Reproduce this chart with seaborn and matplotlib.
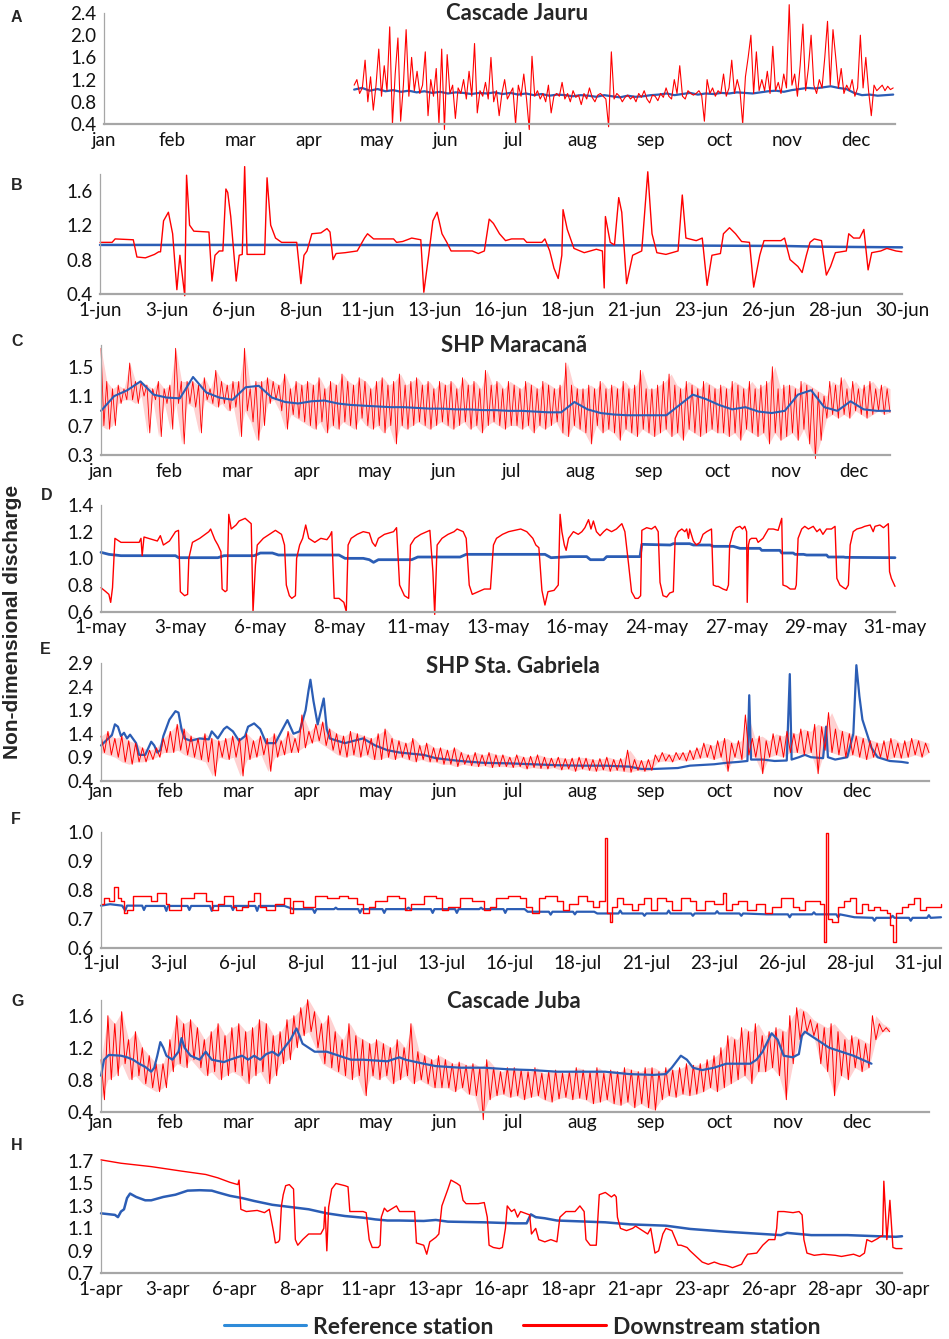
import numpy as np
import matplotlib
matplotlib.use('Agg')
import matplotlib.pyplot as plt
import seaborn as sns
from matplotlib.lines import Line2D

# ---------------- data (x = sample index along each panel, y = non-dimensional discharge)

# A: Cascade Jauru, full year (series start in late April)
A_months = ['jan', 'feb', 'mar', 'apr', 'may', 'jun', 'jul', 'aug', 'sep', 'oct', 'nov', 'dec']
A_span = (413, 1303)
A_ref = [1.02, 1.05, 1.00, 1.03, 0.99, 1.01, 0.98, 1.00, 0.97, 0.99,
         0.96, 0.98, 0.95, 0.97, 0.96, 0.94, 0.96, 0.95, 0.97, 0.94,
         0.96, 0.93, 0.95, 0.92, 0.94, 0.91, 0.93, 0.92, 0.90, 0.92,
         0.91, 0.89, 0.92, 0.90, 0.88, 0.91, 0.89, 0.90, 0.92, 0.93,
         0.95, 0.92, 0.94, 0.96, 0.93, 0.95, 0.94, 0.96, 0.95, 0.97,
         0.96, 0.95, 0.97, 0.99, 1.00, 0.98, 1.01, 1.03, 1.05, 1.04,
         1.06, 1.08, 1.05, 1.03, 0.96, 0.92, 0.93, 0.91, 0.92, 0.93]
A_down = [1.10, 1.20, 0.95, 1.05, 1.55, 0.80, 1.25, 0.65, 1.10, 1.75, 0.90, 1.45, 1.00, 2.15, 0.40, 1.30, 1.95, 0.45, 1.10, 2.10, 0.90, 1.60, 1.00, 1.35, 0.95,
          1.10, 1.70, 0.55, 1.20, 0.90, 1.40, 0.40, 1.75, 0.30, 1.65, 0.95, 1.10, 0.50, 1.05, 0.95, 1.20, 0.85, 1.35, 0.90, 1.85, 0.60, 1.00, 0.90, 1.15, 0.85,
          1.60, 0.80, 1.00, 0.55, 0.95, 1.20, 0.85, 0.95, 1.05, 0.40, 1.10, 0.90, 1.30, 0.85, 0.30, 1.62, 0.90, 1.00, 0.85, 0.95, 0.80, 1.10, 0.60, 0.90, 0.95,
          0.90, 1.15, 0.85, 0.95, 0.80, 1.00, 0.88, 0.92, 0.75, 0.95, 0.85, 1.05, 0.88, 0.80, 0.92, 0.95, 0.90, 0.85, 0.35, 1.70, 0.85, 0.95, 0.90, 0.80, 0.88,
          0.92, 0.85, 0.90, 0.80, 0.95, 0.88, 1.00, 0.85, 0.78, 0.92, 0.90, 0.82, 0.95, 0.88, 1.05, 0.90, 0.85, 1.20, 0.95, 1.45, 0.90, 0.85, 1.00, 0.95, 0.92,
          0.95, 1.00, 0.92, 0.45, 1.20, 0.95, 1.05, 0.90, 1.00, 0.95, 1.30, 0.90, 1.05, 1.55, 0.95, 1.20, 1.00, 0.40, 1.25, 1.60, 2.00, 0.95, 1.70, 1.00, 1.20,
          1.00, 1.35, 0.95, 1.80, 1.00, 1.15, 0.95, 1.30, 1.05, 2.55, 1.10, 1.30, 0.90, 1.45, 2.20, 1.00, 1.40, 2.00, 1.10, 0.95, 1.20, 1.05, 1.60, 2.25, 1.10,
          2.10, 1.60, 1.05, 1.40, 0.95, 1.10, 1.00, 1.20, 0.90, 1.05, 2.00, 1.05, 1.60, 1.00, 0.55, 1.10, 1.00, 1.05, 1.10, 1.00, 1.08, 1.02, 1.05]

# B: Cascade Jauru, June (hourly)
B_days = ['1-jun', '3-jun', '6-jun', '8-jun', '11-jun', '13-jun', '16-jun',
          '18-jun', '21-jun', '23-jun', '26-jun', '28-jun', '30-jun']
B_ref = [(0, 0.97), (300, 0.97), (480, 0.969), (600, 0.966), (900, 0.965), (1000, 0.962),
         (1130, 0.958), (1185, 0.95), (1325, 0.942)]
B_down = [(0, 1.00), (20, 1.00), (25, 1.04), (55, 1.03), (61, 0.83), (75, 0.82), (90, 0.86), (97, 0.89),
          (100, 0.89), (105, 1.25), (113, 1.35), (120, 1.10), (127, 0.45), (132, 0.85), (140, 0.38), (143, 1.78),
          (148, 1.20), (155, 1.13), (180, 1.12), (185, 0.55), (190, 0.85), (197, 0.90), (203, 0.90), (208, 1.62),
          (211, 1.58), (216, 1.30), (225, 0.55), (230, 0.85), (235, 0.86), (239, 1.88), (243, 0.86), (272, 0.86),
          (276, 1.75), (282, 1.20), (290, 1.05), (300, 1.00), (325, 1.00), (332, 0.52), (337, 0.85), (342, 0.90),
          (350, 1.10), (365, 1.11), (375, 1.16), (380, 1.12), (385, 0.80), (390, 0.87), (405, 0.88), (425, 0.90),
          (437, 1.05), (442, 1.10), (452, 1.04), (485, 1.04), (490, 1.00), (500, 1.01), (515, 1.05), (530, 1.03),
          (535, 0.42), (543, 0.85), (550, 1.25), (557, 1.35), (565, 1.10), (573, 1.00), (580, 0.90), (615, 0.90),
          (625, 0.87), (635, 0.90), (643, 1.27), (650, 1.22), (660, 1.10), (670, 1.02), (680, 1.04), (700, 1.04),
          (705, 1.00), (730, 1.00), (735, 1.04), (743, 0.90), (750, 0.70), (757, 0.58), (763, 0.85), (765, 1.38),
          (772, 1.15), (783, 0.93), (800, 0.88), (820, 0.92), (830, 0.90), (833, 0.47), (835, 1.30), (843, 1.00),
          (850, 0.97), (857, 1.52), (862, 1.35), (870, 0.52), (880, 0.85), (895, 0.90), (905, 1.82), (912, 1.10),
          (920, 0.88), (935, 0.86), (955, 0.90), (962, 1.55), (968, 1.05), (985, 1.02), (995, 1.05), (1003, 0.50),
          (1011, 0.85), (1025, 0.87), (1030, 1.10), (1040, 1.17), (1050, 1.10), (1060, 1.01), (1073, 1.00), (1080, 0.48),
          (1090, 0.85), (1097, 1.02), (1125, 1.02), (1131, 1.05), (1140, 0.80), (1153, 0.72), (1160, 0.65), (1167, 0.85),
          (1173, 1.00), (1180, 1.04), (1192, 1.02), (1200, 0.62), (1207, 0.72), (1215, 0.88), (1233, 0.90), (1237, 1.10),
          (1245, 1.05), (1255, 1.05), (1262, 1.15), (1269, 0.68), (1275, 0.88), (1290, 0.90), (1300, 0.93), (1315, 0.90),
          (1325, 0.89)]

# C: SHP Maracana, full year -- reference mean line, downstream upper/lower swings
C_months = A_months
C_end = 1303
C_ref = [0.90, 1.10, 1.18, 1.30, 1.12, 1.08, 1.07, 1.36, 1.15, 1.08, 1.05, 1.22, 1.24, 1.08, 1.02, 1.00,
         1.03, 1.04, 1.00, 0.98, 0.97, 0.96, 0.95, 0.95, 0.94, 0.93, 0.93, 0.92, 0.92, 0.91, 0.91, 0.90,
         0.90, 0.89, 0.88, 0.88, 1.02, 0.92, 0.87, 0.85, 0.84, 0.84, 0.84, 0.84, 0.98, 1.12, 1.06, 0.98,
         0.92, 0.95, 0.89, 0.87, 0.90, 1.12, 1.18, 0.95, 0.90, 1.03, 0.92, 0.90, 0.90]
C_hi = [1.75, 1.30, 1.20, 1.25, 1.20, 1.55, 1.30, 1.30, 1.25, 1.20, 1.30, 1.20,
        1.25, 1.75, 1.30, 1.30, 1.30, 1.25, 1.35, 1.20, 1.45, 1.30, 1.25, 1.30,
        1.30, 1.75, 1.20, 1.30, 1.30, 1.35, 1.30, 1.25, 1.40, 1.20, 1.30, 1.25,
        1.30, 1.25, 1.35, 1.20, 1.30, 1.25, 1.40, 1.30, 1.25, 1.35, 1.30, 1.20,
        1.30, 1.35, 1.25, 1.30, 1.40, 1.25, 1.30, 1.35, 1.25, 1.30, 1.20, 1.30,
        1.25, 1.30, 1.20, 1.35, 1.25, 1.30, 1.20, 1.45, 1.25, 1.30, 1.20, 1.30,
        1.25, 1.20, 1.30, 1.25, 1.20, 1.30, 1.25, 1.20, 1.25, 1.55, 1.25, 1.20,
        1.20, 1.25, 1.20, 1.30, 1.20, 1.25, 1.20, 1.30, 1.20, 1.25, 1.45, 1.20,
        1.20, 1.25, 1.30, 1.40, 1.25, 1.20, 1.30, 1.25, 1.20, 1.30, 1.25, 1.20,
        1.25, 1.20, 1.30, 1.25, 1.20, 1.30, 1.20, 1.25, 1.30, 1.50, 1.20, 1.25,
        1.25, 1.20, 1.30, 1.25, 1.20, 1.15, 1.10, 1.30, 1.25, 1.35, 1.20, 1.30,
        1.20, 1.25, 1.30, 1.20, 1.25, 1.20]
C_lo = [0.70, 0.65, 0.70, 1.00, 1.05, 1.05, 1.00, 1.10, 0.60, 1.05, 0.55, 1.00,
        0.65, 1.00, 0.45, 1.00, 0.95, 0.60, 1.05, 1.00, 0.95, 1.00, 0.90, 0.95,
        0.55, 0.90, 0.75, 0.50, 0.70, 1.00, 1.05, 0.90, 0.65, 0.85, 0.80, 0.75,
        0.70, 0.65, 0.75, 0.60, 0.70, 0.65, 0.75, 0.70, 0.65, 0.80, 0.70, 0.65,
        0.70, 0.60, 0.70, 0.45, 0.70, 0.65, 0.70, 0.75, 0.70, 0.65, 0.70, 0.75,
        0.70, 0.65, 0.70, 0.75, 0.65, 0.70, 0.60, 0.70, 0.75, 0.70, 0.65, 0.70,
        0.70, 0.65, 0.70, 0.60, 0.70, 0.65, 0.70, 0.75, 0.60, 0.55, 0.70, 0.65,
        0.60, 0.45, 0.70, 0.60, 0.65, 0.60, 0.50, 0.65, 0.60, 0.55, 0.65, 0.60,
        0.55, 0.60, 0.65, 0.55, 0.60, 0.50, 0.65, 0.60, 0.55, 0.60, 0.65, 0.60,
        0.60, 0.55, 0.60, 0.50, 0.65, 0.60, 0.55, 0.60, 0.45, 0.60, 0.50, 0.55,
        0.60, 0.50, 0.65, 0.45, 0.25, 0.50, 0.80, 0.85, 0.80, 0.85, 0.80, 0.90,
        0.85, 0.80, 0.85, 0.90, 0.85, 0.88]

# D: SHP Maracana, May (hourly)
D_days = ['1-may', '3-may', '6-may', '8-may', '11-may', '13-may', '16-may',
          '24-may', '27-may', '29-may', '31-may']
D_ref = [(0, 1.045), (13, 1.03), (33, 1.02), (123, 1.02), (128, 1.005), (193, 1.005), (203, 1.02), (253, 1.02),
         (263, 1.04), (283, 1.04), (293, 1.025), (393, 1.025), (403, 1.00), (433, 1.00), (443, 0.99), (450, 0.97),
         (458, 0.99), (513, 0.99), (523, 1.01), (593, 1.01), (603, 1.03), (733, 1.03), (743, 1.005), (775, 1.013),
         (802, 1.013), (808, 0.99), (830, 0.99), (835, 1.013), (890, 1.013), (893, 1.105), (940, 1.10), (945, 1.11),
         (972, 1.11), (978, 1.10), (1006, 1.10), (1011, 1.09), (1044, 1.09), (1055, 1.075), (1088, 1.075),
         (1091, 1.06), (1121, 1.06), (1124, 1.04), (1143, 1.04), (1146, 1.03), (1160, 1.03), (1165, 1.025),
         (1198, 1.025), (1201, 1.01), (1226, 1.01), (1229, 1.0075), (1311, 1.005)]
D_down = [(0, 0.78), (8, 0.75), (13, 0.73), (16, 0.67), (19, 0.78), (23, 1.15), (33, 1.12), (63, 1.12), (66, 1.15),
          (68, 1.02), (71, 1.16), (93, 1.13), (98, 1.17), (103, 1.10), (113, 1.13), (123, 1.20), (128, 1.21),
          (131, 0.75), (138, 0.72), (143, 0.73), (145, 1.00), (151, 1.12), (163, 1.15), (178, 1.20), (181, 1.22),
          (188, 1.14), (193, 1.10), (198, 1.05), (200, 0.77), (205, 0.75), (208, 0.76), (211, 1.33), (215, 1.22),
          (223, 1.25), (228, 1.28), (238, 1.30), (243, 1.28), (248, 1.26), (251, 0.60), (255, 0.95), (258, 1.10),
          (268, 1.15), (278, 1.18), (288, 1.21), (298, 1.18), (303, 1.10), (306, 0.80), (311, 0.72), (315, 0.70),
          (321, 0.72), (323, 1.00), (328, 1.10), (333, 1.15), (338, 1.25), (343, 1.15), (353, 1.12), (363, 1.15),
          (373, 1.14), (378, 1.17), (381, 1.20), (385, 0.70), (393, 0.70), (401, 0.67), (405, 0.60), (408, 1.10),
          (413, 1.15), (423, 1.18), (433, 1.20), (443, 1.19), (448, 1.12), (453, 1.09), (458, 1.15), (468, 1.18),
          (483, 1.20), (488, 1.23), (493, 0.80), (501, 0.72), (508, 0.70), (511, 1.10), (518, 1.15), (528, 1.18),
          (538, 1.20), (543, 1.21), (548, 0.90), (551, 0.58), (555, 1.10), (563, 1.15), (573, 1.18), (583, 1.20),
          (588, 1.22), (598, 1.20), (603, 1.15), (608, 0.80), (613, 0.73), (623, 0.75), (633, 0.77), (643, 0.77),
          (648, 1.10), (653, 1.15), (663, 1.18), (673, 1.20), (683, 1.21), (693, 1.22), (703, 1.20), (713, 1.15),
          (718, 1.10), (723, 1.08), (728, 0.76), (733, 0.65), (738, 0.75), (748, 0.76), (755, 0.80), (758, 1.33),
          (761, 1.20), (765, 1.10), (768, 1.06), (772, 1.15), (780, 1.20), (788, 1.18), (794, 1.20), (799, 1.23),
          (805, 1.29), (809, 1.22), (813, 1.28), (818, 1.20), (824, 1.17), (830, 1.20), (835, 1.22), (843, 1.20),
          (851, 1.22), (860, 1.26), (865, 1.20), (871, 0.96), (876, 0.75), (882, 0.70), (887, 0.70), (891, 0.72),
          (893, 1.21), (901, 1.23), (909, 1.22), (915, 1.24), (920, 1.20), (923, 0.82), (928, 0.72), (934, 0.71),
          (939, 0.74), (945, 0.75), (948, 1.15), (953, 1.20), (959, 1.22), (964, 1.20), (967, 1.22), (970, 1.15),
          (972, 1.22), (978, 1.13), (983, 1.10), (989, 1.12), (994, 1.18), (1000, 1.20), (1008, 1.22), (1011, 0.80),
          (1016, 0.79), (1019, 0.79), (1027, 0.77), (1033, 0.76), (1036, 0.80), (1038, 1.10), (1044, 1.20),
          (1049, 1.23), (1055, 1.24), (1059, 1.22), (1063, 1.24), (1066, 1.20), (1067, 0.67), (1069, 1.10),
          (1071, 1.14), (1074, 1.15), (1082, 1.15), (1085, 1.12), (1093, 1.15), (1102, 1.22), (1110, 1.22),
          (1118, 1.21), (1124, 1.30), (1126, 0.80), (1132, 0.79), (1138, 0.77), (1146, 0.77), (1148, 0.80),
          (1151, 1.15), (1157, 1.22), (1162, 1.24), (1168, 1.22), (1176, 1.24), (1182, 1.20), (1187, 1.22),
          (1192, 1.18), (1198, 1.22), (1206, 1.22), (1212, 1.24), (1215, 0.85), (1220, 0.80), (1226, 0.78),
          (1230, 0.77), (1234, 0.80), (1237, 1.10), (1242, 1.20), (1248, 1.22), (1256, 1.23), (1261, 1.24),
          (1270, 1.25), (1275, 1.20), (1278, 1.24), (1286, 1.25), (1292, 1.23), (1300, 1.26), (1302, 0.90),
          (1305, 0.85), (1308, 0.82), (1311, 0.79)]

# E: SHP Sta. Gabriela, full year
E_months = A_months
E_ref = [(0, 1.15), (8, 1.25), (18, 1.37), (23, 1.60), (28, 1.55), (33, 1.35), (38, 1.42), (43, 1.30), (48, 1.38),
         (58, 1.20), (63, 0.95), (73, 0.95), (83, 1.23), (88, 1.15), (93, 1.00), (98, 1.05), (103, 1.35), (113, 1.70),
         (123, 1.88), (128, 1.85), (133, 1.50), (138, 1.30), (148, 1.25), (163, 1.30), (178, 1.28), (183, 1.45),
         (193, 1.30), (203, 1.50), (208, 1.55), (218, 1.45), (228, 1.25), (238, 1.35), (243, 1.55), (253, 1.62),
         (263, 1.50), (273, 1.20), (288, 1.20), (298, 1.45), (308, 1.69), (318, 1.40), (328, 1.45), (338, 1.90),
         (343, 2.33), (346, 2.55), (351, 2.10), (358, 1.60), (368, 2.15), (373, 1.50), (378, 1.30), (403, 1.20),
         (433, 1.30), (453, 1.15), (473, 1.05), (493, 1.00), (533, 0.95), (553, 0.88), (593, 0.82), (633, 0.78),
         (673, 0.77), (713, 0.75), (753, 0.73), (793, 0.72), (833, 0.72), (873, 0.70), (893, 0.65), (913, 0.65),
         (933, 0.66), (953, 0.67), (973, 0.72), (1013, 0.75), (1033, 0.78), (1053, 0.80), (1068, 0.82), (1071, 2.22),
         (1074, 0.85), (1093, 0.85), (1113, 0.82), (1133, 0.83), (1138, 2.67), (1141, 0.85), (1153, 0.90),
         (1163, 0.95), (1173, 0.90), (1193, 0.88), (1198, 1.55), (1201, 0.90), (1213, 0.85), (1233, 0.90),
         (1243, 1.40), (1248, 2.86), (1253, 2.20), (1258, 1.70), (1263, 1.50), (1273, 1.10), (1283, 0.90),
         (1303, 0.82), (1323, 0.80), (1333, 0.78)]
E_end = 1368
E_hi = [1.35, 1.45, 1.30, 1.35, 1.25, 1.20, 1.10, 1.05, 1.10, 1.30,
        1.45, 1.60, 1.50, 1.35, 1.30, 1.40, 1.30, 1.25, 1.30, 1.35,
        1.30, 1.40, 1.25, 1.35, 1.30, 1.40, 1.25, 1.45, 1.30, 1.80,
        1.45, 1.60, 1.65, 1.50, 1.40, 1.35, 1.45, 1.40, 1.35, 1.30,
        1.40, 1.50, 1.30, 1.25, 1.20, 1.30, 1.15, 1.20, 1.10, 1.10,
        1.05, 1.10, 1.00, 0.95, 1.00, 0.95, 1.00, 0.95, 0.95, 0.90,
        0.95, 0.90, 0.92, 0.95, 0.90, 0.88, 0.90, 0.87, 0.88, 0.90,
        0.88, 0.85, 0.87, 0.90, 0.85, 0.87, 1.05, 0.85, 0.83, 0.85,
        0.95, 1.00, 0.95, 1.00, 1.00, 1.05, 1.10, 1.20, 1.15, 1.25,
        1.30, 1.20, 1.25, 1.80, 1.30, 1.35, 1.25, 1.40, 1.35, 1.45,
        1.40, 1.50, 1.45, 1.60, 1.55, 1.85, 1.50, 1.45, 1.40, 1.35,
        1.30, 1.25, 1.20, 1.25, 1.30, 1.20, 1.25, 1.30, 1.25, 1.20]
E_lo = [1.00, 0.95, 0.90, 0.80, 0.75, 0.80, 0.80, 0.85, 0.90, 1.00,
        1.00, 1.05, 0.95, 0.90, 0.85, 0.80, 0.50, 0.90, 0.85, 0.90,
        0.50, 0.85, 0.90, 0.95, 0.60, 0.90, 0.95, 1.00, 1.00, 1.10,
        1.20, 1.25, 1.15, 1.05, 0.95, 0.90, 0.95, 0.90, 0.95, 0.85,
        0.85, 0.90, 0.85, 0.90, 0.85, 0.80, 0.85, 0.80, 0.80, 0.75,
        0.75, 0.70, 0.75, 0.72, 0.70, 0.72, 0.68, 0.70, 0.70, 0.68,
        0.70, 0.65, 0.68, 0.66, 0.65, 0.68, 0.63, 0.65, 0.60, 0.65,
        0.62, 0.60, 0.63, 0.60, 0.62, 0.60, 0.58, 0.62, 0.60, 0.62,
        0.80, 0.82, 0.80, 0.85, 0.82, 0.85, 0.88, 0.90, 0.85, 0.90,
        0.60, 0.90, 0.85, 0.95, 0.90, 0.55, 0.90, 0.95, 0.90, 1.00,
        1.00, 0.95, 1.00, 0.55, 1.05, 1.00, 0.95, 0.90, 0.95, 0.90,
        0.85, 0.90, 0.90, 0.85, 0.90, 0.88, 0.90, 0.95, 0.90, 1.00]

# F: SHP Sta. Gabriela, July (hourly)
F_days = ['1-jul', '3-jul', '6-jul', '8-jul', '11-jul', '13-jul', '16-jul',
          '18-jul', '21-jul', '23-jul', '26-jul', '28-jul', '31-jul']
F_ref = [(0, 0.745), (15, 0.75), (35, 0.745), (40, 0.728), (43, 0.745), (68, 0.745), (71, 0.73), (74, 0.744),
         (105, 0.744), (108, 0.727), (111, 0.744), (143, 0.744), (146, 0.73), (149, 0.744), (180, 0.744),
         (183, 0.727), (186, 0.744), (215, 0.744), (218, 0.73), (221, 0.744), (255, 0.744), (258, 0.727),
         (261, 0.744), (303, 0.744), (318, 0.733), (350, 0.733), (353, 0.72), (356, 0.733), (385, 0.733),
         (388, 0.738), (391, 0.733), (425, 0.733), (428, 0.72), (431, 0.733), (465, 0.733), (468, 0.72),
         (471, 0.733), (505, 0.733), (508, 0.738), (511, 0.733), (545, 0.733), (548, 0.72), (551, 0.733),
         (585, 0.733), (588, 0.72), (591, 0.733), (625, 0.733), (628, 0.738), (631, 0.733), (665, 0.733),
         (668, 0.72), (671, 0.733), (700, 0.733), (705, 0.724), (740, 0.724), (743, 0.714), (746, 0.724),
         (780, 0.724), (783, 0.715), (786, 0.724), (815, 0.724), (820, 0.718), (855, 0.718), (858, 0.728),
         (861, 0.718), (895, 0.718), (898, 0.71), (901, 0.718), (935, 0.718), (938, 0.728), (941, 0.718),
         (975, 0.718), (978, 0.71), (981, 0.718), (1015, 0.718), (1018, 0.726), (1021, 0.718), (1055, 0.718),
         (1058, 0.71), (1061, 0.718), (1100, 0.715), (1135, 0.715), (1138, 0.705), (1141, 0.715), (1175, 0.715),
         (1178, 0.722), (1181, 0.715), (1215, 0.715), (1218, 0.705), (1221, 0.715), (1245, 0.705), (1275, 0.703),
         (1278, 0.693), (1281, 0.703), (1305, 0.703), (1308, 0.71), (1311, 0.703), (1335, 0.703), (1338, 0.693),
         (1341, 0.703), (1365, 0.703), (1368, 0.712), (1371, 0.703), (1388, 0.705)]
F_down = [(0, 0.75), (5, 0.77), (13, 0.76), (21, 0.81), (28, 0.77), (33, 0.76), (38, 0.72), (43, 0.73), (53, 0.78),
          (73, 0.78), (83, 0.76), (93, 0.79), (108, 0.75), (113, 0.73), (123, 0.73), (133, 0.77), (153, 0.79),
          (173, 0.76), (183, 0.73), (193, 0.75), (203, 0.78), (218, 0.74), (223, 0.73), (233, 0.74), (243, 0.76),
          (253, 0.79), (263, 0.74), (273, 0.73), (288, 0.75), (303, 0.77), (313, 0.72), (318, 0.76), (333, 0.74),
          (353, 0.78), (373, 0.77), (393, 0.78), (408, 0.77), (423, 0.75), (433, 0.72), (443, 0.74), (453, 0.76),
          (473, 0.78), (493, 0.77), (503, 0.73), (513, 0.75), (533, 0.78), (553, 0.77), (563, 0.73), (573, 0.74),
          (593, 0.77), (613, 0.76), (633, 0.73), (643, 0.74), (653, 0.77), (673, 0.78), (693, 0.77), (703, 0.74),
          (713, 0.72), (723, 0.77), (733, 0.78), (753, 0.76), (763, 0.73), (773, 0.75), (788, 0.78), (803, 0.76),
          (813, 0.74), (823, 0.76), (831, 0.76), (833, 0.98), (836, 0.72), (841, 0.69), (845, 0.74), (853, 0.77),
          (863, 0.75), (878, 0.73), (888, 0.75), (898, 0.77), (908, 0.73), (918, 0.77), (933, 0.76), (943, 0.73),
          (958, 0.77), (973, 0.76), (983, 0.73), (998, 0.76), (1013, 0.75), (1028, 0.79), (1033, 0.73), (1043, 0.75),
          (1053, 0.76), (1068, 0.73), (1083, 0.75), (1098, 0.72), (1108, 0.74), (1123, 0.77), (1133, 0.77),
          (1143, 0.74), (1153, 0.73), (1163, 0.76), (1178, 0.76), (1188, 0.75), (1194, 0.75), (1195, 0.62),
          (1198, 0.995), (1201, 0.70), (1208, 0.69), (1218, 0.74), (1228, 0.76), (1238, 0.77), (1248, 0.72),
          (1258, 0.75), (1268, 0.73), (1278, 0.74), (1288, 0.73), (1298, 0.72), (1303, 0.68), (1308, 0.62),
          (1313, 0.72), (1323, 0.74), (1333, 0.75), (1343, 0.77), (1353, 0.73), (1363, 0.74), (1378, 0.74),
          (1388, 0.75)]

# G: Cascade Juba, full year
G_months = A_months
G_ref = [(0, 0.85), (5, 1.05), (13, 1.11), (33, 1.10), (43, 1.08), (53, 1.05), (63, 1.00), (73, 0.96), (83, 0.90),
         (88, 0.95), (93, 1.10), (98, 1.27), (103, 1.20), (108, 1.10), (118, 1.05), (128, 1.15), (133, 1.32),
         (138, 1.20), (148, 1.10), (163, 1.05), (173, 1.15), (183, 1.05), (203, 1.02), (213, 1.05), (233, 1.10),
         (243, 1.05), (253, 1.10), (263, 1.05), (273, 1.12), (283, 1.15), (293, 1.10), (303, 1.20), (313, 1.30),
         (323, 1.44), (328, 1.35), (333, 1.25), (343, 1.20), (353, 1.15), (373, 1.15), (393, 1.10), (413, 1.05),
         (433, 1.05), (473, 1.03), (493, 1.08), (503, 1.05), (533, 1.00), (553, 0.97), (593, 0.95), (633, 0.95),
         (673, 0.93), (713, 0.92), (753, 0.90), (793, 0.90), (833, 0.90), (873, 0.87), (913, 0.86), (933, 0.87),
         (943, 0.95), (958, 1.10), (968, 1.05), (978, 0.95), (993, 0.92), (1013, 0.95), (1033, 1.00), (1053, 1.00),
         (1073, 1.00), (1083, 1.05), (1093, 1.15), (1108, 1.38), (1118, 1.30), (1128, 1.10), (1143, 1.08),
         (1153, 1.12), (1158, 1.35), (1163, 1.40), (1173, 1.35), (1183, 1.30), (1193, 1.25), (1203, 1.20),
         (1223, 1.15), (1243, 1.10), (1258, 1.05), (1273, 1.00)]
G_end = 1303
G_hi = [1.05, 1.60, 1.50, 1.65, 1.30, 1.40, 1.20, 1.10, 1.00, 1.00,
        1.30, 1.60, 1.50, 1.55, 1.45, 1.30, 1.40, 1.50, 1.35, 1.45,
        1.50, 1.40, 1.45, 1.55, 1.50, 1.35, 1.40, 1.55, 1.60, 1.70,
        1.80, 1.65, 1.50, 1.60, 1.40, 1.30, 1.50, 1.35, 1.30, 1.25,
        1.30, 1.25, 1.20, 1.30, 1.20, 1.50, 1.15, 1.10, 1.05, 1.10,
        1.05, 1.00, 1.02, 0.98, 1.00, 0.95, 1.05, 0.95, 0.90, 0.95,
        0.95, 0.92, 0.90, 0.95, 0.88, 0.90, 0.92, 0.88, 0.90, 0.95,
        0.92, 0.90, 0.95, 0.88, 0.92, 0.90, 0.95, 0.92, 0.90, 0.95,
        0.95, 0.90, 0.95, 0.92, 0.95, 1.00, 0.98, 1.00, 1.05, 1.10,
        1.20, 1.35, 1.30, 1.45, 1.40, 1.50, 1.35, 1.40, 1.45, 1.40,
        1.60, 1.70, 1.65, 1.55, 1.50, 1.45, 1.50, 1.40, 1.30, 1.35,
        1.30, 1.25, 1.60, 1.50, 1.45]
G_lo = [0.55, 0.80, 0.85, 1.00, 0.80, 0.85, 0.75, 0.70, 0.65, 0.70,
        0.90, 1.00, 0.95, 1.05, 0.95, 0.85, 0.90, 0.80, 0.85, 0.90,
        0.85, 0.75, 0.85, 0.90, 0.75, 0.85, 1.00, 1.05, 1.20, 1.35,
        1.40, 1.20, 1.00, 0.95, 0.90, 0.85, 0.80, 0.85, 0.60, 0.85,
        0.80, 0.85, 0.75, 0.80, 0.85, 0.75, 0.80, 0.75, 0.70, 0.70,
        0.70, 0.65, 0.70, 0.62, 0.60, 0.30, 0.55, 0.60, 0.62, 0.58,
        0.60, 0.55, 0.58, 0.60, 0.55, 0.52, 0.56, 0.58, 0.55, 0.57,
        0.55, 0.50, 0.52, 0.55, 0.50, 0.48, 0.52, 0.45, 0.50, 0.45,
        0.42, 0.55, 0.60, 0.58, 0.62, 0.60, 0.62, 0.65, 0.70, 0.65,
        0.70, 0.75, 0.80, 0.85, 0.75, 0.90, 0.90, 0.95, 0.85, 0.55,
        1.00, 1.30, 1.40, 1.35, 1.00, 0.90, 0.60, 0.85, 0.80, 0.95,
        0.90, 0.95, 1.30, 1.40, 1.40]

# H: Cascade Juba, April (hourly)
H_days = ['1-apr', '3-apr', '6-apr', '8-apr', '11-apr', '13-apr', '16-apr',
          '18-apr', '21-apr', '23-apr', '26-apr', '28-apr', '30-apr']
H_ref = [(0, 1.234), (23, 1.22), (28, 1.20), (33, 1.25), (38, 1.27), (43, 1.37), (48, 1.41), (58, 1.38),
         (73, 1.35), (83, 1.35), (103, 1.38), (123, 1.40), (143, 1.436), (163, 1.44), (183, 1.436), (193, 1.42),
         (213, 1.39), (233, 1.37), (253, 1.344), (283, 1.31), (313, 1.29), (343, 1.27), (373, 1.234), (403, 1.21),
         (433, 1.195), (453, 1.18), (473, 1.17), (493, 1.17), (533, 1.166), (553, 1.175), (573, 1.16), (633, 1.154),
         (683, 1.145), (703, 1.145), (710, 1.225), (718, 1.20), (733, 1.19), (753, 1.17), (833, 1.154), (873, 1.136),
         (933, 1.124), (973, 1.095), (1033, 1.07), (1093, 1.05), (1123, 1.04), (1133, 1.06), (1153, 1.05),
         (1173, 1.04), (1233, 1.04), (1283, 1.03), (1313, 1.025), (1323, 1.03)]
H_down = [(0, 1.71), (33, 1.68), (83, 1.65), (133, 1.61), (173, 1.58), (193, 1.55), (213, 1.51), (226, 1.49),
          (228, 1.53), (231, 1.27), (240, 1.25), (258, 1.26), (270, 1.24), (278, 1.27), (285, 1.07), (288, 0.97),
          (293, 0.98), (295, 1.00), (298, 1.30), (301, 1.40), (305, 1.48), (311, 1.49), (318, 1.45), (321, 1.00),
          (325, 0.95), (333, 1.00), (343, 1.05), (363, 1.05), (368, 1.10), (370, 1.29), (373, 0.90), (376, 1.29),
          (381, 1.45), (388, 1.50), (403, 1.48), (408, 1.47), (411, 1.25), (423, 1.25), (433, 1.25), (438, 1.24),
          (443, 1.00), (448, 0.93), (458, 0.93), (461, 0.95), (463, 1.20), (468, 1.28), (473, 1.25), (488, 1.30),
          (493, 1.25), (518, 1.25), (521, 0.97), (533, 0.95), (538, 0.87), (543, 0.98), (553, 1.02), (558, 1.05),
          (563, 1.30), (573, 1.45), (578, 1.53), (588, 1.50), (593, 1.48), (598, 1.35), (603, 1.32), (623, 1.32),
          (633, 1.33), (638, 1.20), (641, 0.95), (648, 0.93), (658, 0.92), (663, 0.93), (668, 1.10), (671, 1.30),
          (678, 1.25), (683, 1.27), (688, 1.20), (693, 1.25), (708, 1.22), (711, 1.05), (718, 1.10), (723, 1.00),
          (733, 0.98), (743, 1.00), (753, 0.98), (758, 1.20), (768, 1.25), (783, 1.25), (791, 1.30), (798, 1.25),
          (801, 1.00), (808, 0.95), (818, 0.95), (823, 1.40), (833, 1.42), (843, 1.38), (848, 1.40), (851, 1.38),
          (853, 1.20), (858, 1.10), (868, 1.08), (878, 1.10), (883, 1.12), (903, 1.05), (908, 1.10), (915, 0.88),
          (921, 0.90), (928, 1.05), (933, 1.10), (943, 1.08), (953, 0.95), (958, 0.95), (968, 0.93), (973, 0.90),
          (983, 0.85), (993, 0.80), (1003, 0.78), (1013, 0.80), (1023, 0.78), (1033, 0.77), (1043, 0.75),
          (1053, 0.77), (1058, 0.78), (1063, 0.83), (1068, 0.87), (1083, 0.88), (1093, 0.95), (1103, 1.00),
          (1113, 1.00), (1116, 1.10), (1118, 1.25), (1128, 1.25), (1143, 1.24), (1153, 1.25), (1158, 1.22),
          (1161, 1.00), (1166, 0.88), (1178, 0.86), (1193, 0.87), (1213, 0.86), (1223, 0.85), (1243, 0.87),
          (1253, 0.85), (1261, 0.88), (1265, 1.00), (1273, 0.98), (1283, 1.01), (1288, 1.03), (1291, 1.03),
          (1293, 1.52), (1298, 1.00), (1303, 1.35), (1308, 0.93), (1313, 0.92), (1323, 0.92)]

# ---------------- figure
sns.set_style("white")
plt.rcParams['font.family'] = ['Lato', 'DejaVu Sans']

W, H = 949, 1339
BLUE = '#2B5DB5'
RED = '#FF0000'
GREY = '#A6A6A6'
ARIAL = ['Liberation Sans', 'DejaVu Sans']

fig = plt.figure(figsize=(W / 100, H / 100), dpi=100)


def panel(left, right, top, bottom):
    return fig.add_axes([left / W, 1 - bottom / H, (right - left) / W, (bottom - top) / H])


def style(ax, xlim, ylim, yticks, labels, label_pos, minor=None, label_marks=True):
    ax.set_yticks(yticks)
    ax.set_yticklabels([f'{v:.1f}' for v in yticks])
    ax.set_xticks(label_pos)
    ax.set_xticklabels(labels)
    if minor is not None:
        ax.set_xticks(minor, minor=True)
    ax.set_xlim(*xlim)
    ax.set_ylim(*ylim)
    for s in ['top', 'right']:
        ax.spines[s].set_visible(False)
    ax.spines['left'].set_color(GREY)
    ax.spines['left'].set_linewidth(0.9)
    ax.spines['bottom'].set_color(GREY)
    ax.spines['bottom'].set_linewidth(1.6)
    ax.tick_params(axis='both', which='both', direction='out', color=GREY,
                   labelsize=13.5, pad=1.5, width=0.9, labelcolor='#111111')
    ax.tick_params(axis='y', length=4)
    ax.tick_params(axis='x', which='major', length=4 if label_marks else 0)
    ax.tick_params(axis='x', which='minor', length=4)
    ax.set_xlabel('')
    ax.set_ylabel('')
    ax.patch.set_alpha(0)


def line(ax, x, y, color, lw, **kw):
    sns.lineplot(x=np.asarray(x, dtype=float), y=np.asarray(y, dtype=float), ax=ax, color=color,
                 linewidth=lw, estimator=None, sort=False, legend=False, clip_on=False, **kw)


def pairs(p):
    a = np.array(p, dtype=float)
    return a[:, 0], a[:, 1]


def swing(ax, hi, lo, end, lw):
    # the downstream record swings between the read upper and lower values
    xb = np.linspace(0, end, len(hi))
    ax.fill_between(xb, lo, hi, color='#FF5A5A', alpha=0.28, linewidth=0)
    x = np.linspace(0, end, 2 * len(hi))
    y = np.column_stack([hi, lo]).ravel()
    line(ax, x, y, RED, lw)


# A
ax = panel(104, 895, 13, 124)
line(ax, np.linspace(*A_span, len(A_ref)), A_ref, BLUE, 1.6)
line(ax, np.linspace(*A_span, len(A_down)), A_down, RED, 0.8)
style(ax, (0, 1306), (0.4, 2.4), [0.4, 0.8, 1.2, 1.6, 2.0, 2.4],
      A_months, np.arange(12) * 112.8)

# B
ax = panel(100, 902, 173.5, 294)
line(ax, *pairs(B_ref), BLUE, 1.8)
line(ax, *pairs(B_down), RED, 1.0)
style(ax, (0, 1325), (0.4, 1.8), [0.4, 0.8, 1.2, 1.6], B_days, np.arange(13) * 1325 / 12)

# C
ax = panel(101, 890, 344.6, 455)
swing(ax, C_hi, C_lo, C_end, 0.6)
line(ax, np.linspace(0, C_end, len(C_ref)), C_ref, BLUE, 1.5)
style(ax, (0, 1303), (0.3, 1.8), [0.3, 0.7, 1.1, 1.5], C_months, np.arange(12) * 113.1)

# D
ax = panel(101, 895, 505, 611.7)
line(ax, *pairs(D_ref), BLUE, 2.0)
line(ax, *pairs(D_down), RED, 1.0)
style(ax, (0, 1311), (0.6, 1.4), [0.6, 0.8, 1.0, 1.2, 1.4], D_days, np.arange(11) * 131.1,
      minor=np.arange(10) * 131.1 + 65.55)

# E
ax = panel(101, 929, 663.3, 780.7)
line(ax, *pairs(E_ref), BLUE, 1.6)
swing(ax, E_hi, E_lo, E_end, 0.7)
style(ax, (0, 1368), (0.4, 2.9), [0.4, 0.9, 1.4, 1.9, 2.4, 2.9], E_months, np.arange(12) * 113.5,
      minor=np.arange(11) * 126.7, label_marks=False)

# F
ax = panel(101, 941, 831.7, 947.7)
line(ax, *pairs(F_ref), BLUE, 1.6)
line(ax, *pairs(F_down), RED, 1.0, drawstyle='steps-post')
style(ax, (0, 1388), (0.6, 1.0), [0.6, 0.7, 0.8, 0.9, 1.0], F_days, np.arange(13) * 112.6,
      minor=np.arange(24) * 112.6 / 2)

# G
ax = panel(101, 929, 999.7, 1111.7)
swing(ax, G_hi, G_lo, G_end, 0.7)
line(ax, *pairs(G_ref), BLUE, 1.6)
style(ax, (0, 1368), (0.4, 1.8), [0.4, 0.8, 1.2, 1.6], G_months, np.arange(12) * 113.5,
      minor=np.arange(11) * 126.7, label_marks=False)

# H
ax = panel(101, 902, 1161, 1273.3)
line(ax, *pairs(H_ref), BLUE, 1.8)
line(ax, *pairs(H_down), RED, 1.0)
style(ax, (0, 1323), (0.7, 1.7), [0.7, 0.9, 1.1, 1.3, 1.5, 1.7], H_days, np.arange(13) * 1323 / 12)

# titles, panel letters, shared y label
for txt, x, y in [('Cascade Jauru', 517, 14), ('SHP Maracanã', 514, 345),
                  ('SHP Sta. Gabriela', 513, 666), ('Cascade Juba', 514, 1001)]:
    fig.text(x / W, 1 - y / H, txt, ha='center', va='center', fontsize=16, fontweight='bold')

for txt, x, y in [('A', 11, 18), ('B', 11, 185), ('C', 11, 342), ('D', 41, 496),
                  ('E', 40, 650), ('F', 11, 820), ('G', 11, 1002), ('H', 11, 1145)]:
    fig.text(x / W, 1 - y / H, txt, ha='left', va='center', fontsize=11.5,
             fontweight='bold', family=ARIAL)

fig.text(13 / W, 1 - 622 / H, 'Non-dimensional discharge', rotation=90, ha='center', va='center',
         fontsize=15, fontweight='bold', family=ARIAL)

handles = [Line2D([], [], color='#2E8BD9', lw=2.2), Line2D([], [], color=RED, lw=2.2)]
fig.legend(handles, ['Reference station', 'Downstream station'], loc='center',
           bbox_to_anchor=(522 / W, 1 - 1327 / H), ncol=2, frameon=False,
           prop={'weight': 'bold', 'size': 16.5}, handlelength=3.6, handletextpad=0.3,
           columnspacing=1.3, borderpad=0.1)

fig.savefig('out.png', dpi=100)
